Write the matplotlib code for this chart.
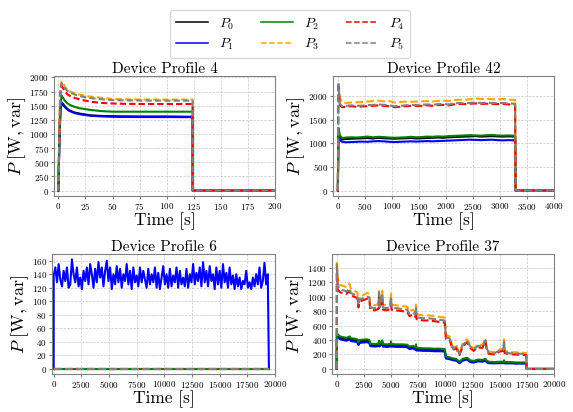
import numpy as np
import matplotlib
matplotlib.use("Agg")
import matplotlib.pyplot as plt

plt.rcParams["font.family"] = "cmr10"
plt.rcParams["mathtext.fontset"] = "cm"
plt.rcParams["axes.formatter.use_mathtext"] = True

labels = [r"$P_0$", r"$P_1$", r"$P_2$", r"$P_3$", r"$P_4$", r"$P_5$"]
colors = ["black", "blue", "green", "orange", "red", "gray"]
styles = ["-", "-", "-", "--", "--", "--"]

# ---- Device Profile 4 ----
t4 = [0, 1, 2, 3, 4, 6, 8, 10, 15, 20, 25, 30, 40, 50, 60, 80, 100, 124, 124.01, 200]
p4 = [
    [0, 900, 1450, 1560, 1540, 1490, 1450, 1420, 1380, 1360, 1345, 1330, 1320, 1315, 1312, 1310, 1310, 1305, 0, 0],
    [0, 880, 1430, 1550, 1525, 1475, 1440, 1410, 1370, 1350, 1335, 1322, 1312, 1305, 1303, 1300, 1300, 1298, 0, 0],
    [0, 950, 1550, 1680, 1650, 1590, 1550, 1520, 1480, 1455, 1440, 1425, 1405, 1395, 1395, 1395, 1395, 1395, 0, 0],
    [0, 1100, 1800, 1930, 1900, 1840, 1790, 1760, 1720, 1695, 1675, 1660, 1640, 1620, 1615, 1610, 1610, 1610, 0, 0],
    [0, 1050, 1720, 1850, 1820, 1760, 1710, 1680, 1640, 1610, 1590, 1570, 1550, 1540, 1535, 1530, 1530, 1530, 0, 0],
    [0, 1090, 1780, 1900, 1870, 1810, 1770, 1740, 1700, 1670, 1650, 1635, 1615, 1600, 1595, 1592, 1590, 1590, 0, 0],
]

# ---- Device Profile 42 ----
t42 = [0, 10, 40, 80, 150,
       250, 350, 450, 550, 650, 750, 850, 950, 1050, 1150,
       1250, 1350, 1450, 1550, 1650, 1750, 1850, 1950, 2050, 2150,
       2250, 2350, 2450, 2550, 2650, 2750, 2850, 2950, 3050, 3150,
       3280, 3290, 4000]
p42 = [
    [0, 1200, 1120, 1080, 1090,
     1095, 1100, 1105, 1110, 1100, 1115, 1105, 1100, 1095, 1100,
     1105, 1110, 1100, 1105, 1110, 1115, 1120, 1115, 1125, 1130,
     1135, 1140, 1145, 1150, 1140, 1145, 1150, 1145, 1140, 1145,
     1140, 0, 0],
    [0, 1150, 1060, 1030, 1020,
     1025, 1030, 1035, 1030, 1040, 1045, 1040, 1030, 1025, 1030,
     1035, 1040, 1035, 1040, 1045, 1040, 1045, 1050, 1055, 1060,
     1065, 1070, 1075, 1070, 1065, 1070, 1075, 1065, 1060, 1065,
     1060, 0, 0],
    [0, 1320, 1160, 1110, 1120,
     1125, 1120, 1130, 1140, 1125, 1135, 1130, 1120, 1115, 1120,
     1125, 1135, 1125, 1130, 1140, 1135, 1145, 1140, 1150, 1155,
     1160, 1165, 1170, 1165, 1160, 1170, 1175, 1165, 1160, 1165,
     1160, 0, 0],
    [0, 2300, 1950, 1860, 1850,
     1860, 1865, 1870, 1880, 1890, 1900, 1885, 1890, 1860, 1870,
     1880, 1875, 1880, 1885, 1890, 1880, 1895, 1900, 1890, 1910,
     1920, 1915, 1930, 1945, 1935, 1940, 1930, 1925, 1935, 1920,
     1915, 0, 0],
    [0, 2200, 1800, 1760, 1770,
     1780, 1770, 1775, 1785, 1790, 1800, 1790, 1780, 1760, 1770,
     1780, 1790, 1785, 1790, 1800, 1790, 1805, 1810, 1800, 1820,
     1830, 1825, 1835, 1840, 1830, 1835, 1830, 1825, 1830, 1820,
     1815, 0, 0],
    [0, 2240, 1830, 1780, 1790,
     1800, 1790, 1795, 1805, 1810, 1820, 1810, 1800, 1780, 1790,
     1800, 1810, 1805, 1810, 1820, 1810, 1825, 1830, 1820, 1840,
     1850, 1845, 1855, 1860, 1850, 1855, 1850, 1845, 1850, 1840,
     1835, 0, 0],
]

# ---- Device Profile 6 (only P1 is non-zero) ----
t6_step = 150
t6_off = 19450
p6_blue = [
    138, 150, 128, 155, 132, 122, 145, 130, 150, 120,
    125, 162, 140, 128, 150, 122, 135, 118, 145, 130,
    150, 125, 155, 140, 120, 148, 128, 158, 135, 150,
    122, 145, 160, 130, 150, 118, 140, 125, 152, 128,
    148, 120, 140, 130, 155, 125, 145, 118, 150, 128,
    138, 122, 150, 128, 145, 132, 120, 148, 125, 140,
    128, 150, 120, 142, 118, 135, 152, 125, 140, 120,
    148, 122, 138, 128, 150, 120, 145, 125, 135, 122,
    148, 120, 140, 128, 155, 125, 142, 130, 150, 122,
    158, 128, 145, 122, 152, 130, 140, 118, 150, 125,
    145, 120, 155, 128, 142, 120, 150, 125, 138, 118,
    140, 122, 135, 118, 130, 125, 145, 120, 128, 118,
    135, 122, 140, 125, 150, 120, 130, 157, 125, 140,
]
t6_zero = [0, 19500]
p6_zero = [0, 0]

# ---- Device Profile 37 ----
t37 = [0, 20, 100, 300, 600, 900, 1200, 1300, 1600, 1900, 2000,
       2100, 2400, 2800, 3000, 3100, 3500, 3850, 3900, 3950, 4200,
       4250, 4600, 4950, 5000, 5050, 5500, 6000, 6500, 6700, 7000,
       7250, 7300, 7350, 7500, 8000, 8500, 9000, 9500, 9950, 10050,
       10400, 10700, 11000, 11300, 11600, 12000, 12300, 12600, 13000, 13400,
       13700, 13800, 14000, 14500, 15000, 15350, 15400, 15450, 16000, 16500,
       17000, 17450, 17500, 20000]
p37 = [
    [0, 460, 460, 430, 420, 410, 430, 405, 400, 390, 350,
     380, 385, 390, 380, 330, 325, 330, 370, 325, 375,
     325, 320, 325, 360, 325, 320, 320, 315, 290, 300,
     280, 320, 270, 270, 265, 265, 260, 260, 255, 155,
     145, 130, 125, 88, 125, 140, 105, 95, 115, 110,
     125, 100, 88, 84, 88, 88, 105, 84, 84, 80,
     80, 80, 0, 0],
    [0, 440, 440, 410, 400, 390, 410, 385, 380, 370, 330,
     360, 365, 370, 360, 315, 310, 315, 350, 310, 355,
     310, 305, 310, 340, 310, 305, 305, 300, 275, 285,
     265, 300, 255, 255, 250, 250, 245, 245, 240, 145,
     135, 120, 115, 80, 115, 130, 95, 88, 105, 100,
     115, 92, 80, 77, 80, 80, 95, 77, 77, 75,
     75, 75, 0, 0],
    [0, 480, 480, 450, 440, 430, 450, 425, 420, 410, 370,
     400, 405, 410, 400, 350, 345, 350, 390, 345, 395,
     345, 340, 345, 380, 345, 340, 340, 335, 310, 320,
     300, 340, 290, 290, 285, 285, 280, 280, 275, 170,
     160, 145, 140, 100, 140, 155, 120, 110, 130, 125,
     140, 115, 100, 95, 100, 100, 120, 95, 95, 90,
     90, 90, 0, 0],
    [0, 1500, 1250, 1160, 1150, 1130, 1180, 1110, 1080, 1060, 920,
     1000, 1020, 1050, 1040, 890, 880, 900, 1090, 900, 1080,
     890, 880, 900, 1040, 890, 880, 870, 860, 800, 820,
     790, 890, 760, 750, 740, 740, 730, 720, 710, 470,
     450, 300, 330, 220, 350, 410, 330, 280, 340, 330,
     420, 300, 240, 230, 270, 280, 410, 250, 230, 230,
     225, 220, 0, 0],
    [0, 1400, 1100, 1060, 1050, 1040, 1080, 1020, 1000, 980, 850,
     930, 950, 970, 960, 820, 810, 830, 1000, 830, 1000,
     820, 810, 830, 960, 820, 810, 800, 790, 730, 750,
     720, 820, 690, 680, 670, 670, 660, 650, 640, 420,
     400, 260, 290, 190, 310, 370, 290, 250, 300, 290,
     380, 270, 210, 200, 240, 250, 370, 220, 200, 200,
     195, 190, 0, 0],
    [0, 1450, 1150, 1100, 1090, 1070, 1110, 1050, 1030, 1010, 880,
     960, 980, 1000, 990, 850, 840, 860, 1060, 860, 1050,
     850, 840, 860, 1000, 850, 840, 830, 820, 760, 780,
     750, 860, 720, 710, 700, 700, 690, 680, 670, 440,
     420, 280, 310, 205, 330, 390, 310, 265, 320, 310,
     400, 285, 225, 215, 255, 265, 390, 235, 215, 215,
     210, 205, 0, 0],
]

W, H = 573, 412
fig = plt.figure(figsize=(W / 100, H / 100), dpi=100)


def make_ax(l, r, t, b):
    ax = fig.add_axes([l / W, 1 - b / H, (r - l) / W, (b - t) / H])
    ax.grid(True, ls="--", lw=0.5, color="#c8c8c8")
    ax.set_axisbelow(True)
    for s in ax.spines.values():
        s.set_color("#808080")
    ax.tick_params(labelsize=6.5, length=2, color="#808080", pad=1.5)
    ax.set_xlabel("Time [s]", fontsize=12.5, labelpad=0)
    ax.set_ylabel(r"$P\ [\mathrm{W,var}]$", fontsize=13, labelpad=1)
    return ax


lw = 1.5

# top left
ax = make_ax(54, 275, 76, 196)
for i in range(6):
    ax.plot(t4, p4[i], color=colors[i], ls=styles[i], lw=lw, dashes=(3, 1.5) if styles[i] == "--" else (None, None))
ax.set_xlim(-4, 200)
ax.set_ylim(-96, 2026)
ax.set_yticks(np.arange(0, 2001, 250))
ax.set_xticks(np.arange(0, 201, 25))
ax.set_title("Device Profile 4", fontsize=11, pad=2)

# top right
ax = make_ax(333, 554, 76, 196)
for i in range(6):
    ax.plot(t42, p42[i], color=colors[i], ls=styles[i], lw=lw)
ax.set_xlim(-90, 4000)
ax.set_ylim(-115, 2420)
ax.set_yticks(np.arange(0, 2001, 500))
ax.set_xticks(np.arange(0, 4001, 500))
ax.set_title("Device Profile 42", fontsize=11, pad=2)

# bottom left
ax = make_ax(52, 275, 254, 374)
t6 = np.concatenate([[0], np.arange(len(p6_blue)) * t6_step + 1, [t6_off]])
v6 = np.concatenate([[0], p6_blue, [0]])
for i in range(6):
    if i == 1:
        ax.plot(t6, v6, color=colors[i], ls=styles[i], lw=lw)
    else:
        ax.plot(t6_zero, p6_zero, color=colors[i], ls=styles[i], lw=lw)
ax.set_xlim(-150, 20000)
ax.set_ylim(-8, 170)
ax.set_yticks(np.arange(0, 161, 20))
ax.set_xticks(np.arange(0, 20001, 2500))
ax.set_title("Device Profile 6", fontsize=11, pad=2)

# bottom right
ax = make_ax(332, 554, 254, 374)
for i in range(6):
    ax.plot(t37, p37[i], color=colors[i], ls=styles[i], lw=lw)
ax.set_xlim(-430, 20000)
ax.set_ylim(-70, 1590)
ax.set_yticks(np.arange(0, 1401, 200))
ax.set_xticks(np.arange(0, 20001, 2500))
ax.set_title("Device Profile 37", fontsize=11, pad=2)

handles = [plt.Line2D([], [], color=colors[i], ls=styles[i], lw=1.1) for i in range(6)]
fig.legend(handles, labels, loc="upper center", bbox_to_anchor=(290 / W, 1 - 3 / H),
           ncol=3, fontsize=10, handlelength=2.3, columnspacing=1.9,
           labelspacing=0.35, handletextpad=0.8, fancybox=True,
           edgecolor="#d0d0d0", borderpad=0.45)

fig.savefig("out.png", dpi=100)
